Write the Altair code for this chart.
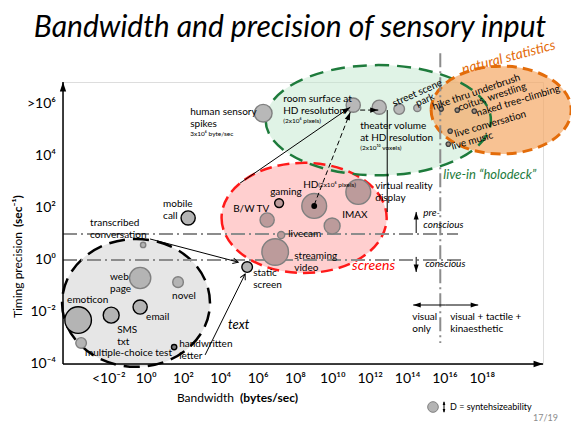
import math
import altair as alt
import pandas as pd

FONT = "Lato"

# ------------------------------------------------------------------ data
# bubbles: log10 bandwidth (bytes/sec), log10 timing precision (1/sec), synthesizeability (diameter)
bubble_names = ["emoticon", "transcribed conversation", "web page", "novel", "email", "SMS",
                "txt / multiple-choice test", "handwritten letter", "mobile call", "static screen",
                "gaming", "HD", "virtual reality display", "B/W TV", "IMAX", "livecam", "streaming video",
                "human sensory spikes", "room surface at HD resolution", "theater volume at HD resolution",
                "street scene", "park",
                "hike thru underbrush", "coitus, wrestling", "naked tree-climbing", "live conversation",
                "live music"]
bubble_bandwidth = [-3.64, -0.16, -0.32, 1.71, -0.32, -1.87, -3.48, 1.50, 2.25, 5.41,
                    7.12, 9.00, 11.36, 6.48, 9.96, 7.23, 6.91,
                    6.27, 11.09, 12.48, 13.55, 14.52,
                    15.80, 16.66, 17.57, 16.28, 16.18]
bubble_precision = [-2.31, 0.58, -0.69, -0.85, -1.81, -2.12, -3.19, -3.35, 1.62, -0.27,
                    2.19, 2.08, 2.62, 1.54, 1.31, 0.96, 0.31,
                    5.65, 5.96, 5.88, 5.81, 5.85,
                    5.81, 5.77, 5.73, 4.96, 4.46]
bubble_synth = [30, 6, 24, 12, 16, 18, 12, 6, 16, 12,
                10, 28, 28, 16, 18, 8, 30,
                20, 16, 16, 12, 8,
                5, 5, 5, 5, 5]
bubble_group = ["text"] * 10 + ["screens"] * 7 + ["holodeck"] * 5 + ["natural"] * 5

# regions (ellipses) in log10 units
region_names = ["text", "screens", "holodeck", "natural"]
region_bw = [-0.54, 8.46, 12.43, 19.01]
region_prec = [-1.65, 1.62, 5.38, 5.77]
region_bw_half = [3.96, 4.42, 6.03, 3.75]
region_prec_half = [2.46, 2.12, 2.12, 1.69]

# thresholds
preconscious_level = 1.0
conscious_level = 0.0
tactile_bandwidth = 15.75

# arrows: from (bw, prec) to (bw, prec)
arrows_open = [(0.21, 0.81, 4.93, -0.08), (3.16, -3.65, 5.30, -0.54)]
arrows_solid = [(5.03, 2.96, 10.93, 5.88)]
arrows_dashed = [(9.00, 2.12, 10.93, 5.69), (11.46, 5.77, 12.43, 5.77)]
lines_plain = [(12.91, 5.77, 12.91, 1.85)]
arrows_side = [(14.46, 1.04, 14.46, 1.85), (14.46, 0.12, 14.46, -0.46),
               (16.04, -1.73, 14.30, -1.73), (16.04, -1.73, 17.78, -1.73)]

# tick labels
x_tick_values = [-2, 0, 2, 4, 6, 8, 10, 12, 14, 16, 18]
x_tick_labels = ["<10⁻²", "10⁰", "10²", "10⁴", "10⁶", "10⁸", "10¹⁰", "10¹²", "10¹⁴", "10¹⁶", "10¹⁸"]
y_tick_values = [-4, -2, 0, 2, 4, 6]
y_tick_labels = ["10⁻⁴", "10⁻²", "10⁰", "10²", "10⁴", ">10⁶"]

labels_plain = [
    ("transcribed", -3.00, 1.42), ("conversation", -3.00, 0.96), ("mobile", 0.91, 2.15), ("call", 0.91, 1.69),
    ("web", -1.93, -0.65), ("page", -1.93, -1.12), ("novel", 1.39, -1.38), ("emoticon", -4.23, -1.54),
    ("email", 0.00, -2.19), ("SMS", -1.55, -2.69), ("txt", -1.55, -3.15), ("multiple-choice test", -3.27, -3.58),
    ("handwritten", 1.77, -3.23), ("letter", 1.77, -3.69), ("static", 5.73, -0.50), ("screen", 5.73, -0.96),
    ("gaming", 6.64, 2.62), ("HD", 8.41, 2.88), ("virtual reality", 12.27, 2.85), ("display", 12.27, 2.38),
    ("B/W TV", 4.66, 1.96), ("IMAX", 10.50, 1.73), ("livecam", 7.61, 1.00), ("streaming", 7.93, 0.15),
    ("video", 7.93, -0.31), ("human sensory", 2.36, 5.69), ("spikes", 2.36, 5.23),
    ("room surface at", 7.34, 6.19), ("HD resolution", 7.34, 5.73), ("theater volume", 11.46, 5.15),
    ("at HD resolution", 11.46, 4.69), ("visual", 14.25, -2.19), ("only", 14.25, -2.65),
    ("visual + tactile +", 16.28, -2.19), ("kinaesthetic", 16.28, -2.65),
]
labels_small = [("(2x10⁶ pixels)", 9.21, 2.88), ("3x10⁶ byte/sec", 2.36, 4.85),
                ("(2x10⁶ pixels)", 7.34, 5.35), ("(2x10¹⁰ voxels)", 11.46, 4.31)]
labels_italic = [("pre-", 14.84, 1.81), ("conscious", 14.84, 1.35), ("conscious", 14.94, -0.15)]
labels_rotated = [("street scene", 14.52, 6.42, 336), ("park", 14.94, 6.15, 336),
                  ("hike thru underbrush", 17.68, 6.46, 341), ("coitus, wrestling", 18.53, 6.27, 342),
                  ("naked tree-climbing", 19.92, 6.12, 343), ("live conversation", 18.43, 5.23, 344),
                  ("live music", 17.46, 4.58, 344)]
captions = [("text", 4.39, -2.50, "#000000", 13, 0), ("screens", 11.03, -0.23, "#ff0000", 14, 0),
            ("live-in “holodeck”", 15.91, 3.27, "#1e7b3c", 13, 0),
            ("natural statistics", 16.93, 7.31, "#e36c0a", 14, 345)]

# ------------------------------------------------------------------ scales
XMIN, XMAX = -4.45, 21.25
YMIN, YMAX = -4.0, 6.85
W, H = 480, 282
PXX = W / (XMAX - XMIN)
PXY = H / (YMAX - YMIN)
xs = alt.Scale(domain=[XMIN, XMAX], nice=False, zero=False)
ys = alt.Scale(domain=[YMIN, YMAX], nice=False, zero=False)


def XE(f="x"):
    return alt.X(f"{f}:Q", scale=xs, axis=None)


def YE(f="y"):
    return alt.Y(f"{f}:Q", scale=ys, axis=None)


layers = []

# ------------------------------------------------------------------ ellipses
fills = {"text": ("#e6e6e6", 1.0), "screens": ("#ffcfcf", 1.0),
         "holodeck": ("#c2e8cd", 0.5), "natural": ("#f5a865", 0.7)}
strokes = {"text": ("#000000", 2.5, [16, 8]), "screens": ("#ff1a1a", 2.5, [12, 6]),
           "holodeck": ("#1e7b3c", 2.5, [14, 8]), "natural": ("#e36c0a", 3, [10, 6])}
ell = []
for i, name in enumerate(region_names):
    rx = region_bw_half[i] * PXX
    ry = region_prec_half[i] * PXY
    r = ry / rx
    path = f"M -1 0 A 1 {r:.4f} 0 1 0 1 0 A 1 {r:.4f} 0 1 0 -1 0 Z"
    df = pd.DataFrame({"x": [region_bw[i]], "y": [region_prec[i]]})
    ell.append((name, path, (2 * rx) ** 2, df))
for name, path, size, df in ell:
    c, op = fills[name]
    layers.append(alt.Chart(df).mark_point(shape=path, size=size, filled=True, fill=c, fillOpacity=op,
                                           strokeWidth=0, opacity=1).encode(x=XE(), y=YE()))
for name, path, size, df in ell:
    c, sw, dash = strokes[name]
    layers.append(alt.Chart(df).mark_point(shape=path, size=size, filled=False, fill=None, stroke=c,
                                           strokeWidth=sw, strokeDash=dash, opacity=1).encode(x=XE(), y=YE()))

# ------------------------------------------------------------------ threshold lines
thr = pd.DataFrame({"x": [XMIN, XMIN, tactile_bandwidth],
                    "x2": [16.7, 16.9, tactile_bandwidth],
                    "y": [preconscious_level, conscious_level, 7.96],
                    "y2": [preconscious_level, conscious_level, -3.19]})
layers.append(alt.Chart(thr).mark_rule(color="#8c8c8c", strokeWidth=2, strokeDash=[14, 4, 2, 4]).encode(
    x=XE(), x2="x2:Q", y=YE(), y2="y2:Q"))

# ------------------------------------------------------------------ bubbles
group_fill = {"text": "#b4b4b4", "screens": "#bc9b9b", "holodeck": "#b8b8b8", "natural": "#a09080"}
dark_edge = {"emoticon", "email", "SMS", "handwritten letter", "mobile call", "static screen", "gaming"}
bub = pd.DataFrame({"name": bubble_names, "x": bubble_bandwidth, "y": bubble_precision,
                    "d": bubble_synth, "group": bubble_group})
bub["area"] = math.pi * (bub["d"] / 2) ** 2
bub["fill"] = bub["group"].map(group_fill)
bub.loc[bub["name"] == "handwritten letter", "fill"] = "#7a7a7a"
bub["edge"] = ["#000000" if n in dark_edge else ("#404040" if g == "natural" else "#808080")
               for n, g in zip(bub["name"], bub["group"])]
layers.append(alt.Chart(bub).mark_circle(opacity=1, strokeWidth=1.4).encode(
    x=XE(), y=YE(), size=alt.Size("area:Q", scale=None),
    fill=alt.Fill("fill:N", scale=None), stroke=alt.Stroke("edge:N", scale=None),
    tooltip="name:N"))
hd = bub[bub["name"] == "HD"][["x", "y"]]
layers.append(alt.Chart(hd).mark_circle(opacity=1, color="black", size=34).encode(x=XE(), y=YE()))

# ------------------------------------------------------------------ arrows
HEAD = "M 0 0 L -0.6 1.8 L 0.6 1.8 Z"
CHEV = "M -0.9 1.7 L 0 0 L 0.9 1.7"


def ang(x1, y1, x2, y2):
    dx = (x2 - x1) * PXX
    dy = -(y2 - y1) * PXY
    return math.degrees(math.atan2(dx, -dy)) % 360


def seg_df(lst):
    return pd.DataFrame([{"x": a, "y": b, "x2": c, "y2": d, "a": ang(a, b, c, d)} for a, b, c, d in lst])


solid = seg_df(arrows_open + arrows_solid + lines_plain + arrows_side)
dashed = seg_df(arrows_dashed)
layers.append(alt.Chart(solid).mark_rule(color="black", strokeWidth=1).encode(
    x=XE(), x2="x2:Q", y=YE(), y2="y2:Q"))
layers.append(alt.Chart(dashed).mark_rule(color="black", strokeWidth=1, strokeDash=[5, 3]).encode(
    x=XE(), x2="x2:Q", y=YE(), y2="y2:Q"))
filled_heads = seg_df(arrows_solid + arrows_dashed)
layers.append(alt.Chart(filled_heads).mark_point(shape=HEAD, size=80, filled=True, fill="black",
                                                 strokeWidth=0, opacity=1).encode(
    x=XE("x2"), y=YE("y2"), angle=alt.Angle("a:Q", scale=None)))
side_heads = seg_df(arrows_side)
layers.append(alt.Chart(side_heads).mark_point(shape=HEAD, size=70, filled=True, fill="black",
                                               strokeWidth=0, opacity=1).encode(
    x=XE("x2"), y=YE("y2"), angle=alt.Angle("a:Q", scale=None)))
open_heads = seg_df(arrows_open)
layers.append(alt.Chart(open_heads).mark_point(shape=CHEV, size=40, filled=False, fill=None, stroke="black",
                                               strokeWidth=1, opacity=1).encode(
    x=XE("x2"), y=YE("y2"), angle=alt.Angle("a:Q", scale=None)))

# ------------------------------------------------------------------ axes
axes = pd.DataFrame({"x": [XMIN, XMIN], "x2": [XMIN, XMAX], "y": [YMIN, YMIN], "y2": [YMAX, YMIN]})
layers.append(alt.Chart(axes).mark_rule(color="black", strokeWidth=1.5).encode(
    x=XE(), x2="x2:Q", y=YE(), y2="y2:Q"))
axheads = pd.DataFrame({"x": [XMIN, XMAX], "y": [YMAX, YMIN], "a": [0, 90]})
layers.append(alt.Chart(axheads).mark_point(shape=HEAD, size=110, filled=True, fill="black",
                                            strokeWidth=0, opacity=1).encode(
    x=XE(), y=YE(), angle=alt.Angle("a:Q", scale=None)))
xt = pd.DataFrame({"x": x_tick_values, "y": [YMIN] * len(x_tick_values), "t": x_tick_labels})
layers.append(alt.Chart(xt).mark_text(font=FONT, fontSize=14, color="black", dy=15, baseline="middle",
                                      align="center").encode(x=XE(), y=YE(), text="t:N"))
yt = pd.DataFrame({"x": [XMIN] * len(y_tick_values), "y": y_tick_values, "t": y_tick_labels})
layers.append(alt.Chart(yt).mark_text(font=FONT, fontSize=14, color="black", dx=-7, baseline="middle",
                                      align="right").encode(x=XE(), y=YE(), text="t:N"))

one = pd.DataFrame({"k": [0]})


def furniture(text, x, y, **kw):
    props = dict(font=FONT, baseline="middle", color="black")
    props.update(kw)
    return alt.Chart(one).mark_text(text=text, **props).encode(x=alt.value(x), y=alt.value(y))


layers.append(furniture("Bandwidth", 171, 316, fontSize=12, align="right"))
layers.append(furniture("(bytes/sec)", 177, 316, fontSize=12, align="left", fontWeight="bold"))
layers.append(furniture("Timing precision", -45, 150, fontSize=12, align="right", angle=270))
layers.append(furniture("(sec⁻¹)", -45, 145, fontSize=12, align="left", angle=270, fontWeight="bold"))
layers.append(furniture("Bandwidth and precision of sensory input", 227, -54, fontSize=30,
                        fontStyle="italic", align="center"))
layers.append(furniture("D = syntehsizeability", 387, 325, fontSize=9, align="left"))
layers.append(furniture("17/19", 470, 336, fontSize=9, align="left", color="#8c8c8c"))
layers.append(alt.Chart(one).mark_circle(size=113, fill="#b4b4b4", stroke="#808080", strokeWidth=1,
                                         opacity=1).encode(x=alt.value(370), y=alt.value(325)))
layers.append(alt.Chart(one).mark_rule(color="black", strokeWidth=1).encode(
    x=alt.value(381), y=alt.value(320), y2=alt.value(330)))
leg_heads = pd.DataFrame({"yy": [319, 331], "a": [0, 180]})
layers.append(alt.Chart(leg_heads).mark_point(shape=HEAD, size=20, filled=True, fill="black",
                                              strokeWidth=0, opacity=1).encode(
    x=alt.value(381), y=alt.Y("yy:Q", scale=None), angle=alt.Angle("a:Q", scale=None)))


# ------------------------------------------------------------------ labels
def text_layer(rows, cols, **kw):
    df = pd.DataFrame(rows, columns=cols)
    props = dict(font=FONT, baseline="middle", color="black", align="left", fontSize=10)
    props.update(kw)
    enc = dict(x=XE(), y=YE(), text="t:N")
    if "a" in cols:
        enc["angle"] = alt.Angle("a:Q", scale=None)
    if "c" in cols:
        enc["color"] = alt.Color("c:N", scale=None)
    if "s" in cols:
        enc["size"] = alt.Size("s:Q", scale=None)
    return alt.Chart(df).mark_text(**props).encode(**enc)


layers.append(text_layer(labels_plain, ["t", "x", "y"]))
layers.append(text_layer(labels_small, ["t", "x", "y"], fontSize=6.5))
layers.append(text_layer(labels_italic, ["t", "x", "y"], fontStyle="italic"))
layers.append(text_layer(labels_rotated, ["t", "x", "y", "a"], align="center"))
layers.append(text_layer(captions, ["t", "x", "y", "c", "s", "a"], fontStyle="italic"))

chart = alt.layer(*layers).properties(
    width=W, height=H,
    padding={"left": 55, "top": 74, "right": 28, "bottom": 62},
    autosize=alt.AutoSizeParams(type="none"),
).configure_view(stroke=None).configure(background="white")

chart.save("out.html", embed_options={"renderer": "svg", "actions": False})
